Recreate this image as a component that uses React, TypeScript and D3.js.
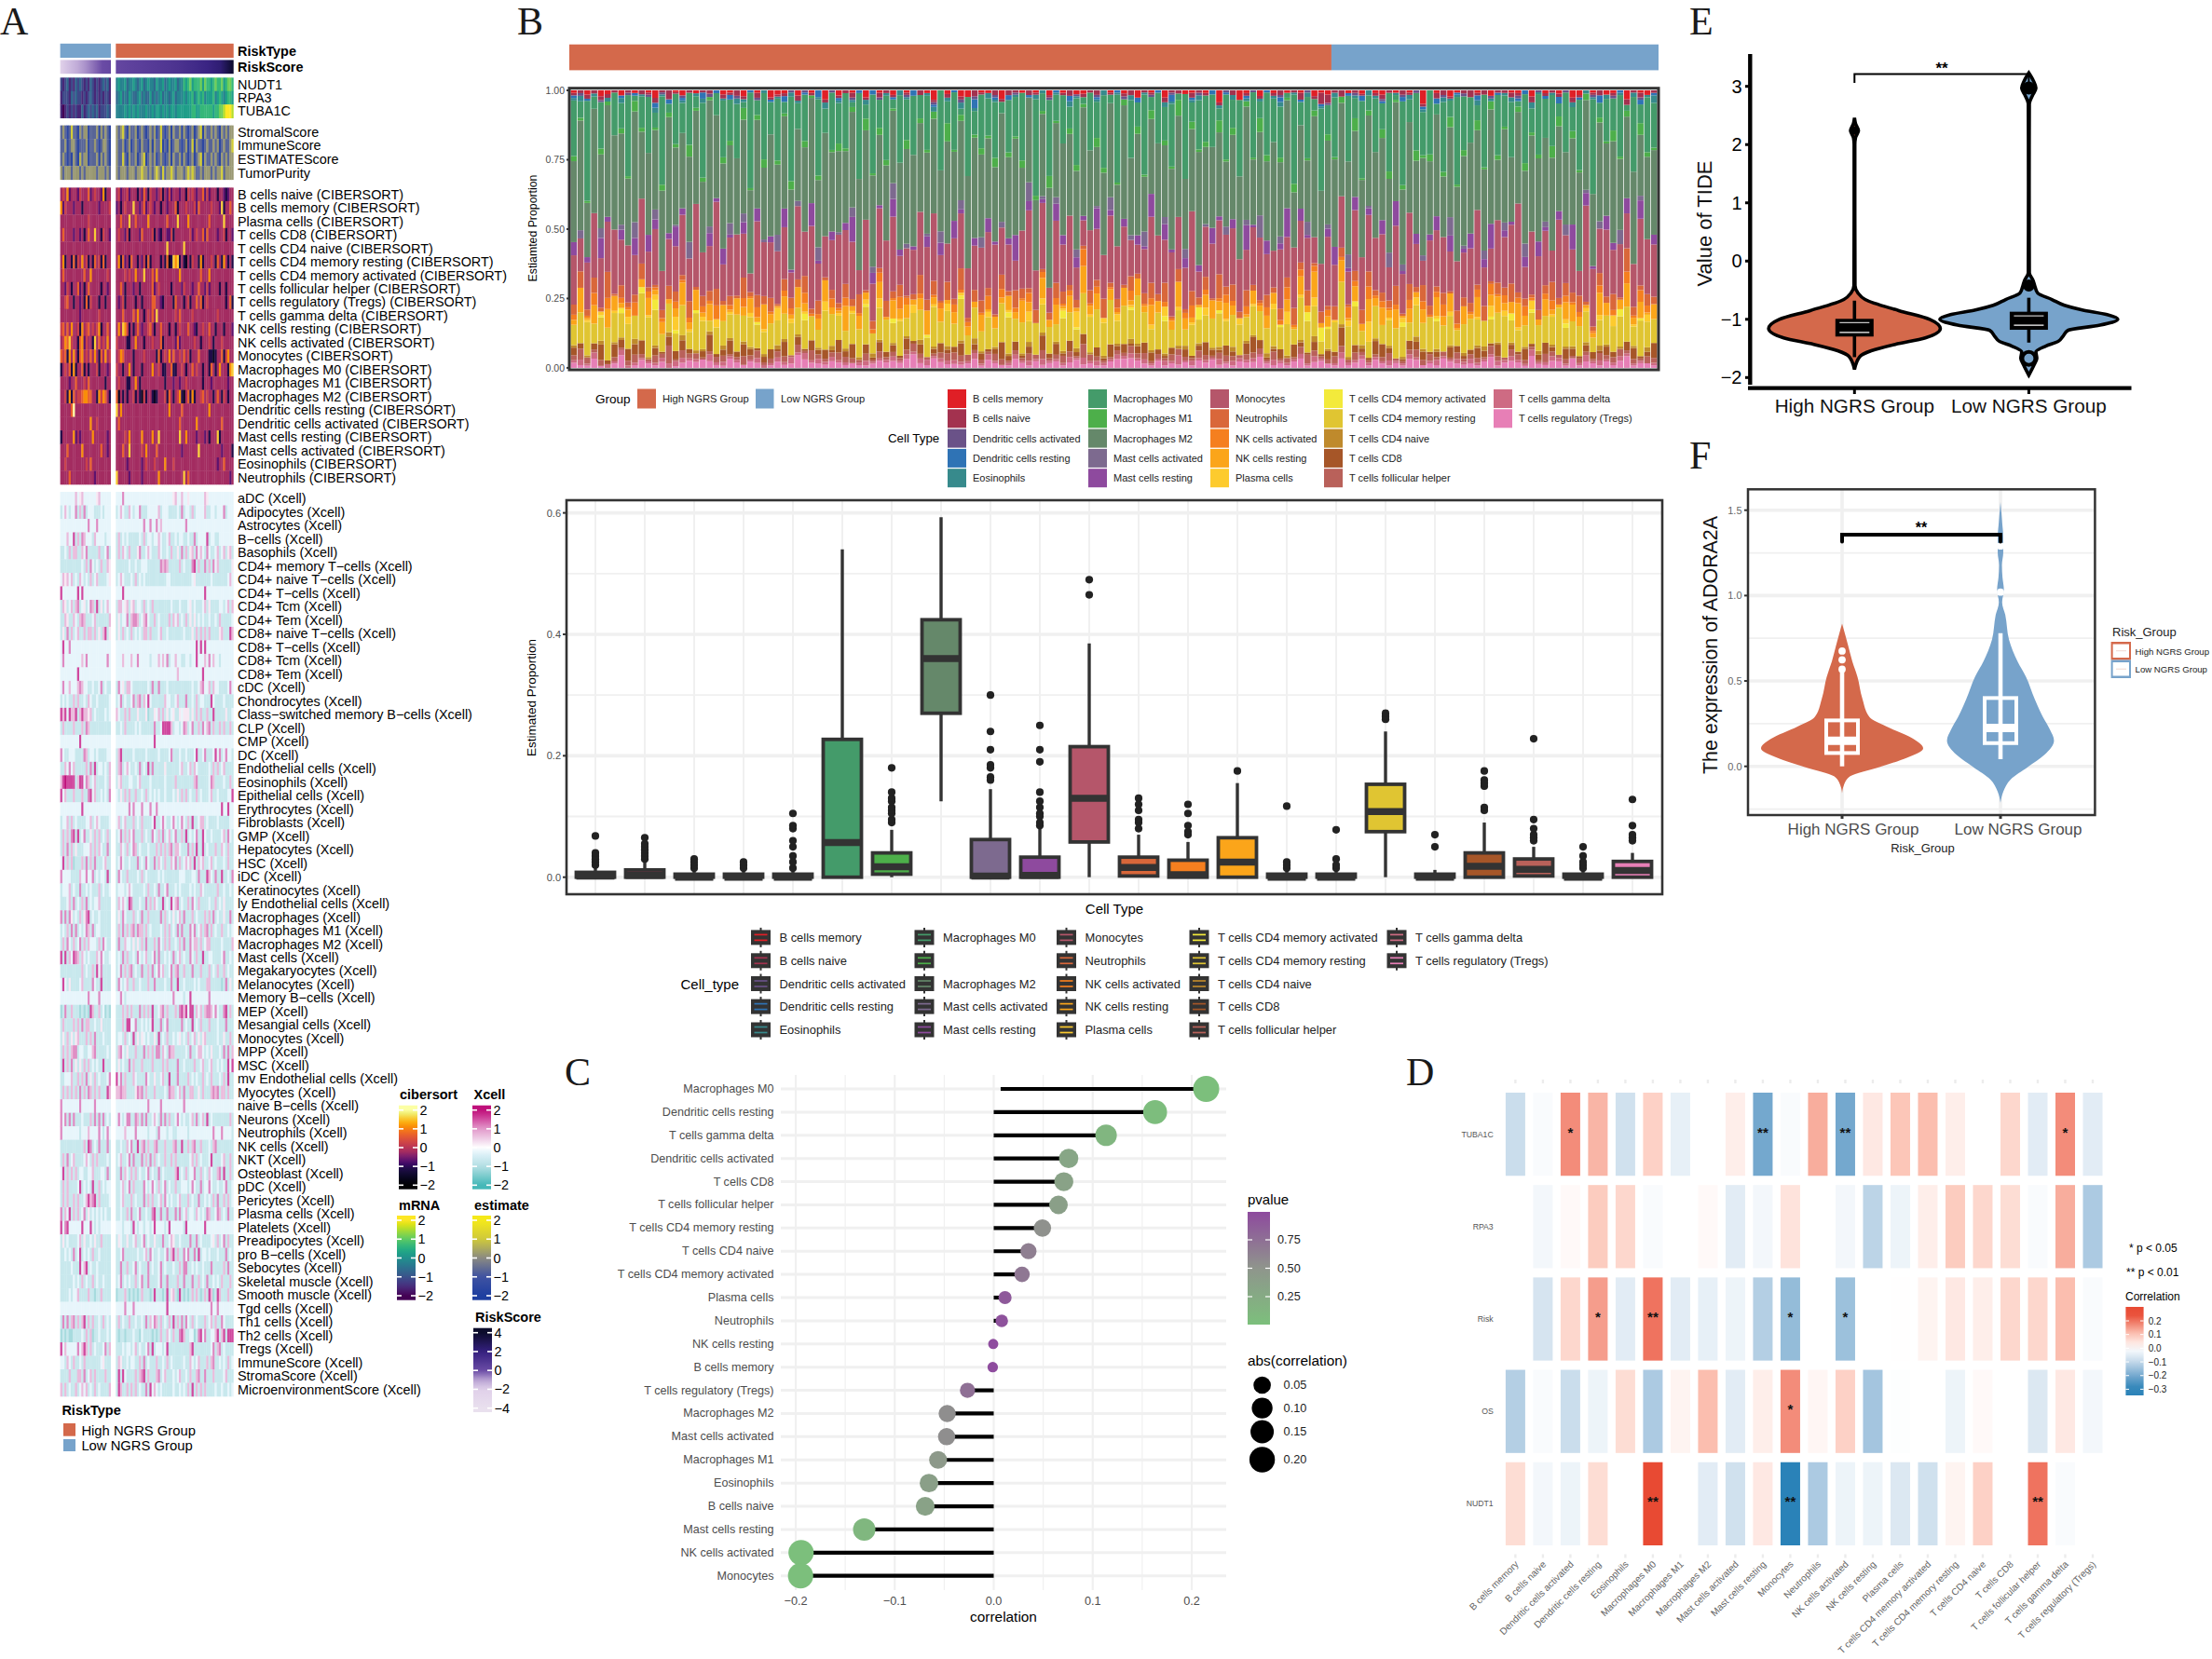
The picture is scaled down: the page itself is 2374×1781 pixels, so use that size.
import React from "react";
import * as d3 from "d3";

const HIGH = "#D4694B";
const LOW = "#77A3CB";
const SANS = "'Liberation Sans', Arial, sans-serif";
const SERIF = "'Liberation Serif', 'Times New Roman', serif";
const GRID = "#f0f0f0";

// ---- panel A values: one string per row, "low group" + space + "high group", digit 0-9 = z score -2..2
const mrnaLabels = ["NUDT1", "RPA3", "TUBA1C"];
const mrnaRows = [
  "212312132321213212123231 45445344543453454435445345445344656756667576656766756776",
  "122213232212123212121221 34534354334534335343453443453444545564565645556456545665",
  "101212121131232323122232 44445454545444544545545454554555555566556666665667789998",
];
const estimateLabels = ["StromalScore", "ImmuneScore", "ESTIMATEScore", "TumorPurity"];
const estimateRows = [
  "353137331535513335153531 53573153351353135351373135153351531351357153353531535355",
  "335135531333513353135531 53351351353153315153371315135531351371533135335351353357",
  "353131531635513335153531 53373153351357135351353135153351531351357153353531535355",
  "535553555353555553555353 53555355535575535357537355753555357575335355535355735555",
];
const cibersortLabels = ["B cells naive", "B cells memory", "Plasma cells", "T cells CD8", "T cells CD4 naive", "T cells CD4 memory resting", "T cells CD4 memory activated", "T cells follicular helper", "T cells regulatory (Tregs)", "T cells gamma delta", "NK cells resting", "NK cells activated", "Monocytes", "Macrophages M0", "Macrophages M1", "Macrophages M2", "Dendritic cells resting", "Dendritic cells activated", "Mast cells resting", "Mast cells activated", "Eosinophils", "Neutrophils"];
const cibersortRows = [
  "454734443544463454437244 45344534442436425443452435344434425454344635344424432344",
  "735444344424444444344445 34245444844346345434424434446244454445364444454443824464",
  "444444444444454444444444 44644484464444474444444464444844447444444444644444484444",
  "464444344342464484425443 45443524444364444524324433524444444534544636444434452443",
  "444444444444444444444444 44444444444444444444444484444444844444444444444444444444",
  "472442625474524264526244 47263426442435262444424261287824214254427244454264274242",
  "464444444446447444444454 44445454474448444647444444444474444444446444744444444444",
  "443542446342464444424434 44642444344244444634544444244443544434464435344442442444",
  "445644244342625444244244 43452444424424444664432444426444245244646245444444442462",
  "444444444344444444544444 44464444647442454648444444445464444454444444444454444444",
  "564647445274564545724464 47487524246434456424464442442454446443244544644244424443",
  "457685442673544284645474 54444224474442444544462444443634444445442444542444544444",
  "656274742674546474264745 45764444244445444442624547464454645244464444221244625744",
  "245462724462424445244434 54424474244424444744542244622445424464544244264247444278",
  "444434464445464444444244 45444224474244444444444244434434454444444244434444444344",
  "445272645567766442757642 61424244524215244212444526424572146272445645442464254244",
  "444446944444444444444444 84744444444444444444444447444446444444444444744444444444",
  "444444444444447445444444 46444444444444444444444444444464444444744444444444644444",
  "244444734344444744444434 44445474444474444744844444444484474444344434244482444444",
  "444644444474444444464434 44464484444454744446444444444443444444484444444444344442",
  "445444444444546444444444 44444344444434544454444744454444444444444444444434464444",
  "444464444444444434444444 84444434444434444444744444444444846444444444444444444434",
];
const xcellLabels = ["aDC", "Adipocytes", "Astrocytes", "B\u2212cells", "Basophils", "CD4+ memory T\u2212cells", "CD4+ naive T\u2212cells", "CD4+ T\u2212cells", "CD4+ Tcm", "CD4+ Tem", "CD8+ naive T\u2212cells", "CD8+ T\u2212cells", "CD8+ Tcm", "CD8+ Tem", "cDC", "Chondrocytes", "Class\u2212switched memory B\u2212cells", "CLP", "CMP", "DC", "Endothelial cells", "Eosinophils", "Epithelial cells", "Erythrocytes", "Fibroblasts", "GMP", "Hepatocytes", "HSC", "iDC", "Keratinocytes", "ly Endothelial cells", "Macrophages", "Macrophages M1", "Macrophages M2", "Mast cells", "Megakaryocytes", "Melanocytes", "Memory B\u2212cells", "MEP", "Mesangial cells", "Monocytes", "MPP", "MSC", "mv Endothelial cells", "Myocytes", "naive B\u2212cells", "Neurons", "Neutrophils", "NK cells", "NKT", "Osteoblast", "pDC", "Pericytes", "Plasma cells", "Platelets", "Preadipocytes", "pro B\u2212cells", "Sebocytes", "Skeletal muscle", "Smooth muscle", "Tgd cells", "Th1 cells", "Th2 cells", "Tregs", "ImmuneScore", "StromaScore", "MicroenvironmentScore"];
const xcellRows = [
  "444444464564444445644444 44474444444444444444444444456446445444444465444444444444",
  "346434473637344433343444 34643364344733344444634443333437344363444463344344473444",
  "444444444444474447444444 44444444444447447447464444444444474444444444444444444444",
  "444644836376444364444344 36343433333436344344643346334344334337344448344334444444",
  "334363663364733333633473 36364363335733464333643343633537363563746437433463463563",
  "333333333343637434363365 33333343343344433333376763333363433378363373637463333335",
  "465646343643436346333345 34643334363434333333333344333333333345333333343333333464",
  "844444448484444444444444 44484444444444444444444444444444444444444484444444444444",
  "365346367345347638353464 36645635634436343633333333433343334534333463533334434636",
  "336533643676333463333336 35344736776346743363433336364634363535343433433436333334",
  "353736346336366363536835 35363436343436636333463343333333433353636363633335633386",
  "484474444444444444444444 44444444444444444444444444444444444444848484444444444444",
  "474444444464744444444474 44464446447444443444646473446443344344844464746443444444",
  "444444448444444444444444 44444444444444444444444444444644444444444844444444444444",
  "474464446764433433473433 37453664333333343733733343333333333343346744636443333474",
  "343433636334364334333334 34734334736736484333333644334633373343634433384333343333",
  "868486683686656343333434 64336363335333523354636353453354555353636336338333335334",
  "363333633363763333333333 33436333343433333373348888634434763473363746736336363363",
  "444444444844444444444444 44444444444444444484444444444444444444444444444444444444",
  "743344433337634434333344 36833333433333433333433334733343343334833473334847347443",
  "336474633333637383443436 36734643343734383733333533333346334636433333436363463333",
  "689888836884763463333436 35633344334633334333333433336333333336733333476333343363",
  "846333633363378463343437 43536363363343634343433433343536363433634333463343333448",
  "444444444484444444444444 44444474744474447447444444444444444444444444444444844844",
  "344636343333446346433334 46346333634363333483347433474347436383346634333343333344",
  "363637838347335363634363 34736364733363433743637346347336383434733843343333463743",
  "363736353334446363643373 33643634763433343336363636736643337363833834333633643633",
  "483636233363736373334633 34743343337343743373643633647363464638364633463433343633",
  "744443333644744734344383 37433633334363433333434333333344433344373338643733833437",
  "344463433733434333634334 34443464333334363343733473334343333434336433333363343343",
  "333463734363734344633333 36464387333433736364338343846734336374363333433634353333",
  "737375343635783433433333 35374333634373363333373634353463733363433363637343353373",
  "343637373434763734433333 36373636737663634333343636343737333747346367363433633434",
  "363743634736364443637433 37336443535363733363743636334363733746636346633333433336",
  "838364876364343336474334 34373633437434633473733434373463433743633833443333473343",
  "333333333363433638473333 34736367343373363734746334736733633373336333634363363433",
  "484353333463333743383333 37434633633433363373333433733833433334343336633333237353",
  "444444444444474444744444 44743444444444444444444444474444344844444444744444444444",
  "237336333232328633634232 33363636333736363833467363336378684883646367764743378363",
  "363333636373663343353333 33363884473343434833373473333337343383436333633343337333",
  "353635356333636373334333 34436343835354343353834363343453436346353563333343353363",
  "363636773443344673333343 36743533363337363637736437663333343733466434353334373736",
  "383637353536363434338333 35343373633363333633336363333733433336334633463343433848",
  "334446336363735363433347 84736333643333743353346338333733336343433634363334363833",
  "363636363736376363633386 66766333357673633363333437663463733663353633367673663633",
  "744444444744444474444444 44444444444444474444474444444444744444444444444444444444",
  "747373733343336373737343 47434773376373733464373736334743433463734638343333333363",
  "744444444344464444743474 44446444474444434443744434433444443444444444447444744443",
  "333333333336387343733373 33433647338367363367333633367338336367336333436733333333",
  "363734633334643636333343 34633473733373637363433633636333333463634333483333463363",
  "483636363443344633344373 33736436363433473433734333336834363447336343643367383363",
  "363633334834343833634344 33463473633337434743634734336334443474337344743343347334",
  "363633636334686783633334 33463336343337363633463743433463336343373343436373363634",
  "736483636347353434343433 33433637334733433783373373337373463443643437633476343733",
  "847844444484448434344444 44434443843443443484444348444444384444444484444444444444",
  "353433334635334353363333 35433533463347343353337334653343333733734333345363473633",
  "334343734834343633433333 33473333334334637433433473683633747337383443433343337343",
  "333334333846834334333333 33733633473433373433473433343363773343433433373333363733",
  "333333434363433634334333 34734343363473373333473373333633733373363437334343633363",
  "333343446333363323363333 23336323232363332383332383563283232363632363862386333633",
  "444444444444444444444444 44447444744444444444444484444444444444444444474474444444",
  "373736736368363633436343 36343363343343736476363436383637374363433363463633743333",
  "232322333343636233433343 32332333433243333232363364363378633442378473344683683888",
  "846444447468636343334736 33343443463433473834443483333333333683333333347367343333",
  "443643633436333333345333 36533434433637343336334363433333433643463336367334343634",
  "333363336637346363333633 38384333363678363336734633343463343633673373336333346333",
  "636343363464634363433336 38633636363433738464343333343343436383636363333433433434",
];

// panel B: stacked proportions per sample, base-36 digits scaled by cellUnits below
const bMemory = "1020310201 0130012010 0021020103 2102010302 0103010201 0014010230 1103001010 2010210001 0103010300 2101040031 0201010102 1200102012 0101050103 1001020011 0201010320 1021030120";
const bNaive = "1121211010 2121210101 1021210201 1102010101 1201021101 0201010102 1021210210 1012011201 0120110211 0211010201 0101201301 5412011012 1021010221 0131201121 0201110210 1201021201";
const dcActivated = "0100100010 0101001000 1000100100 0010100010 0100010001 0001000101 0010010000 1000100100 0100010010 0010001000 1000100010 0100010001 0010100010 0100010001 0010001000 1001000100";
const dcResting = "1010000101 0020101003 0102001001 0200103001 0010200100 2001001003 0010200100 0102000100 1002001030 0100201001 0010200100 1000103001 0020010200 1002001001 2001020010 0300100201";
const eosinophils = "1201010200 1021001012 0010210010 1021001201 0102001021 0012010201 0210010021 0102100120 1020100210 0120010201 0101201020 1020010210 0102010021 1002010120 0210100201 1020102013";
const macroM0 = "b3o2c0a5h1 8d3m1f6b2i 04e9a1n3c7 f2k5b0h4d8 a1g3j6c2e9 b5a0l3f1i4 d7c2b9e0m3 g6a4h1d8f2 k0c5j3b7e1 n4a9d2g6c0 h3f8b1l5e2 i7d0c4m3a6 g1j5b8e2f4 k9a3h0d6c1 i4g7b2e5f0 l3a6d1h4c9";
const macroM1 = "2110310214 2013120512 1032041230 2140312013 1205132104 0213051201 3140213021 5102310420 1203140215 0312041302 1530214012 0312051204 3120413025 1204132102 4120530312 0214120521";
const macroM2 = "gkdhjfmiel hjgkdnfigh jflhegkidm hgjeklfhig dkhjmfegil hjfkgeidlh kfgjhmdige lhjfkgidhm ejgldhkfig jhnfkegidl hfjkgmdiel gkjfhdmigj flhkeigjdm hfkgjldieh jgmfkdhile gkhjfeldih";
const mastActivated = "0300500206 0040010700 2005030010 8002006001 0400300702 0010600300 5002000801 0300400106 0020700300 5001004002 0800300060 0200500100 6030020009 0100400300 7002005001 0300600200";
const mastResting = "4020810305 0630192000 3161030402 0510071030 2800410620 1030507102 0410290301 0630410702 0203180510 4020610307 1050290410 0360140205 0810302406 0150370210 4061020803 1052040603";
const monocytes = "d8feh9kcga mbfd7igcje 9lchfa6kdg hc8jemb9fi dg6kchfm8e bidjg7lcfa hekbd9gmcf 7jdhb5ifcl gda8ekhcjb fm7dichgba kfd9hbjcg6 emcb8gkfdi 9hclb6jegd fagkc8idhm bejd9gfc7k hclbf8djge";
const neutrophils = "4635271523 8214362715 3624172536 1453826142 5371426351 2846153724 6315284261 3752416382 4162573814 2635184726 3162548371 5263148624 3817264251 6342715382 4153826471 2536184253";
const nkActivated = "2014030215 0312041203 1502031401 0230512041 3010240153 0201304120 1503021402 0312051301 2040130210 3502014203 0140251302 0301420513 1204031250 2013041302 5102403120 1302041530";
const nkResting = "2916057230 4826159372 5081637294 1628405731 9253071846 2593716042 8152639407 3916284705 1627395048 6215938401 7264051839 2507164938 3816250749 1628047359 5036218741 2960483716";
const plasmaCells = "0010201030 0120080102 0301002010 6020100301 0102040010 3001020100 0200100402 0010801020 3010020401 0103001020 1002050103 0010200800 1020300102 0001040201 0300102001 0204001030";
const cd4Activated = "0000100200 3040020010 0000000100 0000300000 0001000200 0010000100 0000200000 0030100000 0010000200 0050010000 0000100040 6100020000 0020000100 0000010030 0100002000 0000300100";
const cd4Resting = "aek8fbhcdb unib8df9gh 4cfdhbicae fbjdhcagic 8gdkchfbia dg9lecfhbd cfahjdgbic eahdcfklhq dgfpickhae bgcdiefhcb jdfhcg9nid 7cgheja8fb dghafcjdei 9chdfbgkca edhcfibdgc 8dhcgfbjec";
const cd4Naive = "1010201102 0110102011 1021011010 2101001020 1010210101 0201010102 1010101201 0110201010 1021010101 2010110201 1021010102 0101102010 1010210101 0101201010 1020101101 0210101020";
const cd8 = "3202816354 7031254203 5136243124 1503142315 2604142315 1402513402 3126241305 2514230416 2313542130 4125315204 8311406213 1426032156 2014331205 3124315021 6134205312 3142035126";
const follicularHelper = "2431302123 2132413221 1231132312 3213142123 2213131212 3211324231 2132121323 1232143211 2132312132 2132123212 3213121342 1232132112 3112323121 3122132132 2113212121 1322312132";
const gammaDelta = "1212011211 1112132110 2121101211 2131312121 1012111212 1221212112 1210121212 1112121211 2121211213 1211121211 2112111212 1012112111 2112101211 2121112121 1211211012 1211211101";
const tregs = "2113102501 4213012324 2114213201 3125422132 1211232324 5214312123 1321142131 2312412113 4343213121 3132412122 3421213412 3213125132 1214312143 2121341232 1421321412 2131341221";

const cellTypes = ["B cells memory", "B cells naive", "Dendritic cells activated", "Dendritic cells resting", "Eosinophils", "Macrophages M0", "Macrophages M1", "Macrophages M2", "Mast cells activated", "Mast cells resting", "Monocytes", "Neutrophils", "NK cells activated", "NK cells resting", "Plasma cells", "T cells CD4 memory activated", "T cells CD4 memory resting", "T cells CD4 naive", "T cells CD8", "T cells follicular helper", "T cells gamma delta", "T cells regulatory (Tregs)"];
const cellColors = ["#E01F26", "#A3324F", "#6A5288", "#2F73B5", "#378A8C", "#449B6A", "#4DAF4A", "#65886A", "#7D6A8F", "#8E4A9E", "#B5566A", "#D9673A", "#F57F1F", "#FBA51A", "#FDCB2E", "#F3EA3B", "#E0C532", "#BF8A2C", "#A65628", "#B9615A", "#CE6B83", "#E77FB6"];
const cellStrings = [bMemory, bNaive, dcActivated, dcResting, eosinophils, macroM0, macroM1, macroM2, mastActivated, mastResting, monocytes, neutrophils, nkActivated, nkResting, plasmaCells, cd4Activated, cd4Resting, cd4Naive, cd8, follicularHelper, gammaDelta, tregs];
const cellUnits = [1, 1, 1, 1, 1, 2, 1, 2, 1, 1.3, 1.5, 1, 1, 1, 1, 1, 0.8, 1, 1, 1, 1, 1];

// boxplot values, same order as cellTypes
const boxQ1 = [0, 0, 0, 0, 0, 0, 0.005, 0.27, 0, 0, 0.058, 0.002, 0, 0, 0, 0, 0.075, 0, 0, 0.002, 0, 0];
const boxMedian = [0.002, 0.003, 0, 0, 0, 0.057, 0.017, 0.36, 0.002, 0.003, 0.13, 0.016, 0.004, 0.025, 0, 0, 0.108, 0, 0.018, 0.013, 0, 0.011];
const boxQ3 = [0.008, 0.012, 0.005, 0.005, 0.005, 0.227, 0.04, 0.424, 0.062, 0.033, 0.215, 0.033, 0.028, 0.065, 0.005, 0.005, 0.153, 0.005, 0.04, 0.03, 0.005, 0.026];
const boxLow = [0, 0, 0, 0, 0, 0, 0, 0.125, 0, 0, 0, 0, 0, 0, 0, 0, 0, 0, 0, 0, 0, 0];
const boxHigh = [0.015, 0.025, 0.012, 0.012, 0.012, 0.54, 0.078, 0.593, 0.145, 0.08, 0.385, 0.07, 0.058, 0.155, 0.012, 0.012, 0.24, 0.012, 0.09, 0.05, 0.012, 0.04];
const boxOutliers = [
  [0.02, 0.025, 0.03, 0.035, 0.04, 0.068],
  [0.03, 0.035, 0.04, 0.045, 0.05, 0.055, 0.065],
  [0.015, 0.02, 0.025, 0.03],
  [0.015, 0.02, 0.025],
  [0.015, 0.025, 0.035, 0.05, 0.06, 0.08, 0.085, 0.105],
  [],
  [0.09, 0.095, 0.105, 0.11, 0.115, 0.125, 0.13, 0.14, 0.18],
  [],
  [0.16, 0.165, 0.18, 0.185, 0.21, 0.24, 0.30],
  [0.085, 0.09, 0.1, 0.105, 0.115, 0.125, 0.14, 0.19, 0.21, 0.25],
  [0.465, 0.49],
  [0.08, 0.09, 0.095, 0.11, 0.12, 0.13],
  [0.07, 0.075, 0.085, 0.105, 0.12],
  [0.175],
  [0.015, 0.02, 0.025, 0.117],
  [0.015, 0.02, 0.03, 0.078],
  [0.26, 0.265, 0.27],
  [0.05, 0.07],
  [0.11, 0.115, 0.15, 0.155, 0.16, 0.175],
  [0.06, 0.065, 0.07, 0.08, 0.095, 0.228],
  [0.015, 0.02, 0.025, 0.035, 0.05],
  [0.06, 0.065, 0.07, 0.085, 0.128],
];

// panel C
const lollipopLabels = ["Macrophages M0", "Dendritic cells resting", "T cells gamma delta", "Dendritic cells activated", "T cells CD8", "T cells follicular helper", "T cells CD4 memory resting", "T cells CD4 naive", "T cells CD4 memory activated", "Plasma cells", "Neutrophils", "NK cells resting", "B cells memory", "T cells regulatory (Tregs)", "Macrophages M2", "Mast cells activated", "Macrophages M1", "Eosinophils", "B cells naive", "Mast cells resting", "NK cells activated", "Monocytes"];
const lollipopCorrelation = [0.2146, 0.163, 0.1135, 0.0757, 0.0708, 0.0654, 0.0492, 0.0351, 0.0286, 0.0114, 0.0081, -0.0005, -0.001, -0.0265, -0.047, -0.0476, -0.0562, -0.0654, -0.0692, -0.1308, -0.1946, -0.1951];
const lollipopPvalue = [0.01, 0.03, 0.12, 0.3, 0.35, 0.38, 0.53, 0.65, 0.7, 0.9, 0.95, 0.99, 0.99, 0.75, 0.55, 0.55, 0.45, 0.38, 0.35, 0.1, 0.01, 0.01];
const sizeLegend = [0.05, 0.1, 0.15, 0.2];

// panel D
const corrGenes = ["TUBA1C", "RPA3", "Risk", "OS", "NUDT1"];
const corrValues = [
  [-0.09, -0.01, 0.17, 0.12, -0.08, 0.08, -0.04, 0, 0.03, -0.2, -0.01, 0.13, -0.2, 0.04, 0.1, 0.11, 0.03, 0, 0.07, -0.05, 0.17, -0.05],
  [0, -0.02, 0.01, 0.09, 0.07, -0.01, 0, 0.01, -0.05, -0.02, 0.05, 0, -0.02, -0.11, -0.03, 0.03, 0.09, 0.07, 0.06, -0.01, 0.13, -0.13],
  [0, -0.07, 0.07, 0.15, -0.05, 0.2, -0.05, -0.04, -0.03, -0.12, -0.16, 0, -0.15, 0, 0.002, 0.02, 0.04, 0.03, 0.07, 0.07, 0.11, -0.01],
  [-0.12, -0.01, -0.09, -0.03, 0.06, -0.13, 0.02, 0.11, -0.05, 0.03, 0.17, 0.015, 0.08, -0.14, -0.003, 0, -0.03, 0.01, 0, -0.06, 0.04, -0.02],
  [0.06, -0.02, -0.03, 0.06, 0, 0.25, 0, -0.05, -0.08, 0.04, -0.3, -0.13, -0.03, -0.03, -0.06, -0.08, 0.02, 0.08, 0, 0.2, -0.01, 0],
];
const corrStars = [
  ["", "", "*", "", "", "", "", "", "", "**", "", "", "**", "", "", "", "", "", "", "", "*", ""],
  [],
  ["", "", "", "*", "", "**", "", "", "", "", "*", "", "*"],
  ["", "", "", "", "", "", "", "", "", "", "*"],
  ["", "", "", "", "", "**", "", "", "", "", "**", "", "", "", "", "", "", "", "", "**"],
];

// panel E, violin outlines: value and relative density
const tideHighValue = [2.46, 2.36, 2.24, 2.12, 2.0, 0.8, -0.42, -0.55, -0.66, -0.85, -1.0, -1.16, -1.32, -1.43, -1.54, -1.64, -1.86];
const tideHighDensity = [0, 0.012, 0.045, 0.012, 0.004, 0.004, 0.006, 0.04, 0.12, 0.5, 0.85, 0.97, 0.8, 0.46, 0.19, 0.06, 0];
const tideLowValue = [3.23, 3.1, 2.97, 2.84, 2.7, 1.29, -0.2, -0.34, -0.44, -0.55, -0.66, -0.76, -0.84, -0.92, -1.0, -1.1, -1.19, -1.3, -1.38, -1.46, -1.56, -1.67, -1.78, -1.96];
const tideLowDensity = [0, 0.05, 0.08, 0.04, 0.006, 0.004, 0.006, 0.05, 0.07, 0.1, 0.26, 0.4, 0.6, 0.88, 1, 0.8, 0.44, 0.38, 0.33, 0.19, 0.08, 0.09, 0.06, 0];

// panel F
const adoraHighValue = [0.836, 0.778, 0.705, 0.615, 0.524, 0.396, 0.287, 0.233, 0.16, 0.105, 0.05, -0.004, -0.058, -0.113, -0.158];
const adoraHighDensity = [0, 0.034, 0.076, 0.126, 0.19, 0.25, 0.34, 0.55, 0.88, 1, 0.8, 0.46, 0.1, 0.02, 0];
const adoraLowValue = [1.547, 1.433, 1.342, 1.25, 1.178, 1.105, 1.033, 0.96, 0.887, 0.742, 0.615, 0.524, 0.396, 0.287, 0.215, 0.151, 0.069, -0.004, -0.076, -0.149, -0.213];
const adoraLowDensity = [0, 0.02, 0.034, 0.034, 0.017, 0.025, 0.042, 0.02, 0.059, 0.105, 0.21, 0.315, 0.42, 0.525, 0.61, 0.66, 0.546, 0.336, 0.126, 0.034, 0];

const minus = (v: number | string) => String(v).replace("-", "\u2212");
const pct = (s: string, unit: number) => Array.from(s.replace(/\s/g, "")).map((c) => parseInt(c, 36) * unit);
const level = (c: string) => -2 + (+c * 4) / 9;

const xcellColor = d3.scaleLinear<string>().domain([-2, -1, -0.3, 0, 0.5, 1, 1.5, 2]).range(["#45B8B8", "#b3dfe3", "#dff2f9", "#ffffff", "#eecbe5", "#e29acb", "#d24fa2", "#bf0f7a"]).clamp(true);
const estimateColor = d3.scaleLinear<string>().domain([-2, -1, 0, 1, 2]).range(["#1E3FA0", "#3f52a2", "#8a8a82", "#cfc93a", "#f5e91a"]).clamp(true);
const riskColor = d3.scaleLinear<string>().domain([-4, -2, -1, 0, 2, 4]).range(["#e9e0ee", "#e0d0ea", "#b9a3d3", "#6a4ba5", "#35207f", "#0b0b2b"]).clamp(true);
const cibersortT = d3.scaleLinear().domain([-2, -1, -0.22, 1, 2]).range([0, 0.14, 0.44, 0.72, 1]).clamp(true);
const cibersortColor = (v: number) => d3.interpolateInferno(cibersortT(v));
const mrnaColor = (v: number) => d3.interpolateViridis(Math.min(1, Math.max(0, (v + 2) / 4)));
const pColor = d3.scaleLinear<string>().domain([0, 0.5, 1]).range(["#7CC07C", "#8f958c", "#8E4A9E"]);
const corrColor = d3.scaleLinear<string>().domain([-0.3, -0.2, -0.1, 0, 0.1, 0.25]).range(["#2a82b8", "#74a8ce", "#c4d9ea", "#ffffff", "#fcc6b8", "#e84a33"]).clamp(true);

type TextProps = { x: number; y: number; s?: number; c?: string; a?: "start" | "middle" | "end"; w?: number | string; r?: number; children: React.ReactNode };
const T = ({ x, y, s = 12, c = "#000", a = "start", w = 400, r, children }: TextProps) => (
  <text x={x} y={y} fontSize={s} fill={c} textAnchor={a} fontWeight={w} dominantBaseline="central" fontFamily={SANS} transform={r !== undefined ? `rotate(${r} ${x} ${y})` : undefined}>{children}</text>
);
const Letter = ({ x, y, children }: { x: number; y: number; children: string }) => (
  <text x={x} y={y} fontSize={42} fontFamily={SERIF} fill="#1a1a1a">{children}</text>
);

function HeatBlock({ rows, labels, suffix = "", top, bottom, color }: { rows: string[]; labels: string[]; suffix?: string; top: number; bottom: number; color: (v: number) => string }) {
  const y = d3.scaleBand<number>().domain(d3.range(rows.length)).range([top, bottom]);
  return (
    <g>
      {rows.map((row, i) => {
        const [lo, hi] = row.split(" ");
        const xl = d3.scaleBand<number>().domain(d3.range(lo.length)).range([64.6, 119]);
        const xh = d3.scaleBand<number>().domain(d3.range(hi.length)).range([124.3, 250.7]);
        return (
          <g key={i}>
            {Array.from(lo).map((c, j) => <rect key={j} x={xl(j)} y={y(i)} width={xl.bandwidth() + (j < lo.length - 1 ? 0.3 : 0)} height={y.bandwidth() + 0.3} fill={color(level(c))} />)}
            {Array.from(hi).map((c, j) => <rect key={j} x={xh(j)} y={y(i)} width={xh.bandwidth() + (j < hi.length - 1 ? 0.3 : 0)} height={y.bandwidth() + 0.3} fill={color(level(c))} />)}
            <T x={255} y={y(i)! + y.bandwidth() / 2} s={14.4}>{labels[i] + suffix}</T>
          </g>
        );
      })}
    </g>
  );
}

function ColorBar({ id, title, x, titleX, titleY, top, bottom, hi, lo, color, ticks, yHi, yLo, width = 20 }: { id: string; title: string; x: number; titleX: number; titleY: number; top: number; bottom: number; hi: number; lo: number; color: (v: number) => string; ticks: number[]; yHi: number; yLo: number; width?: number }) {
  const y = d3.scaleLinear().domain([lo, hi]).range([yLo, yHi]);
  const offsets = d3.range(0, 1.0001, 0.05);
  return (
    <g>
      <defs>
        <linearGradient id={id} x1="0" x2="0" y1="0" y2="1">
          {offsets.map((o) => <stop key={o} offset={o} stopColor={color(y.invert(top + o * (bottom - top)))} />)}
        </linearGradient>
      </defs>
      <T x={titleX} y={titleY} s={14.5} w={700}>{title}</T>
      <rect x={x} y={top} width={width} height={bottom - top} fill={`url(#${id})`} />
      {ticks.map((t) => (
        <g key={t}>
          <line x1={x} x2={x + width * 0.25} y1={y(t)} y2={y(t)} stroke="#fff" strokeWidth={1.6} />
          <line x1={x + width * 0.75} x2={x + width} y1={y(t)} y2={y(t)} stroke="#fff" strokeWidth={1.6} />
          <T x={x + width + 2.5} y={y(t)} s={14.4}>{minus(t)}</T>
        </g>
      ))}
    </g>
  );
}

function PanelA() {
  const riskLow = [-2.2, -1.6, -1.2, -0.8, -0.4, 0, 0.2];
  const riskHigh = [0.2, 0.4, 0.6, 0.8, 1, 1.2, 1.5, 1.8, 2.3, 4];
  return (
    <g>
      <Letter x={0} y={37}>A</Letter>
      <defs>
        <linearGradient id="riskLow">{riskLow.map((v, i) => <stop key={i} offset={i / (riskLow.length - 1)} stopColor={riskColor(v)} />)}</linearGradient>
        <linearGradient id="riskHigh">{riskHigh.map((v, i) => <stop key={i} offset={i / (riskHigh.length - 1)} stopColor={riskColor(v)} />)}</linearGradient>
      </defs>
      <rect x={64.6} y={46.8} width={54.4} height={15.2} fill={LOW} />
      <rect x={124.3} y={46.8} width={126.4} height={15.2} fill={HIGH} />
      <T x={255} y={54.7} s={14.4} w={700}>RiskType</T>
      <rect x={64.6} y={64.4} width={54.4} height={14.8} fill="url(#riskLow)" />
      <rect x={124.3} y={64.4} width={126.4} height={14.8} fill="url(#riskHigh)" />
      <T x={255} y={72} s={14.4} w={700}>RiskScore</T>
      <HeatBlock rows={mrnaRows} labels={mrnaLabels} top={83.3} bottom={126.7} color={mrnaColor} />
      <HeatBlock rows={estimateRows} labels={estimateLabels} top={134.6} bottom={192.8} color={estimateColor} />
      <HeatBlock rows={cibersortRows} labels={cibersortLabels} suffix=" (CIBERSORT)" top={201.4} bottom={520} color={cibersortColor} />
      <HeatBlock rows={xcellRows} labels={xcellLabels} suffix=" (Xcell)" top={528} bottom={1499} color={xcellColor} />
      <ColorBar id="cbCib" title="cibersort" x={428} titleX={429} titleY={1175} top={1186.7} bottom={1276.7} hi={2} lo={-2} yHi={1191.7} yLo={1272.3} color={cibersortColor} ticks={[-2, -1, 0, 1, 2]} />
      <ColorBar id="cbXcell" title="Xcell" x={507} titleX={508.5} titleY={1175} top={1186.7} bottom={1276.7} hi={2} lo={-2} yHi={1191.7} yLo={1272.3} color={xcellColor} ticks={[-2, -1, 0, 1, 2]} />
      <ColorBar id="cbMrna" title="mRNA" x={426} titleX={428} titleY={1294} top={1305} bottom={1395.7} hi={2} lo={-2} yHi={1310} yLo={1391} color={mrnaColor} ticks={[-2, -1, 0, 1, 2]} />
      <ColorBar id="cbEst" title="estimate" x={507} titleX={509} titleY={1294} top={1305} bottom={1395.7} hi={2} lo={-2} yHi={1310} yLo={1391} color={estimateColor} ticks={[-2, -1, 0, 1, 2]} />
      <ColorBar id="cbRisk" title="RiskScore" x={508} titleX={510} titleY={1414} top={1425.7} bottom={1516} hi={4} lo={-4} yHi={1430.7} yLo={1511.7} color={riskColor} ticks={[-4, -2, 0, 2, 4]} />
      <T x={66.4} y={1514} s={14.5} w={700}>RiskType</T>
      <rect x={68} y={1528} width={13} height={13.7} fill={HIGH} />
      <rect x={68} y={1545} width={13} height={13} fill={LOW} />
      <T x={87.4} y={1535.7} s={14.8}>High NGRS Group</T>
      <T x={87.4} y={1552.3} s={14.8}>Low NGRS Group</T>
    </g>
  );
}

function StackedBars() {
  const sampleCount = 160;
  const samples = d3.range(sampleCount).map((i) => {
    const o: Record<string, number> = {};
    cellTypes.forEach((t, k) => { o[t] = pct(cellStrings[k], cellUnits[k])[i] ?? 0; });
    return o;
  });
  const keys = [...cellTypes].reverse();
  const series = d3.stack<Record<string, number>>().keys(keys).offset(d3.stackOffsetExpand)(samples);
  const x = d3.scaleBand<number>().domain(d3.range(sampleCount)).range([612.5, 1778.5]).paddingInner(0.1);
  const y = d3.scaleLinear().domain([0, 1]).range([394.9, 97]);
  const groupX = d3.scaleLinear().domain([0, 1]).range([611, 1780]);
  return (
    <g>
      <Letter x={555} y={37}>B</Letter>
      <rect x={611} y={47.7} width={groupX(0.6997) - 611} height={27.7} fill={HIGH} />
      <rect x={groupX(0.6997)} y={47.7} width={1780 - groupX(0.6997)} height={27.7} fill={LOW} />
      {series.map((s) => (
        <g key={s.key} fill={cellColors[cellTypes.indexOf(s.key)]}>
          {s.map((d, i) => <rect key={i} x={x(i)} y={y(d[1])} width={x.bandwidth()} height={Math.max(0, y(d[0]) - y(d[1]))} />)}
        </g>
      ))}
      <rect x={611} y={94.7} width={1169} height={302.3} fill="none" stroke="#333" strokeWidth={3} />
      {[0, 0.25, 0.5, 0.75, 1].map((t) => (
        <g key={t}>
          <line x1={608} x2={611} y1={y(t)} y2={y(t)} stroke="#333" strokeWidth={2} />
          <T x={606} y={y(t)} s={10.5} a="end" c="#4d4d4d">{t.toFixed(2)}</T>
        </g>
      ))}
      <T x={572} y={245} s={12.3} a="middle" r={-90}>Estiamted Proportion</T>
      <T x={639} y={428} s={13.5}>Group</T>
      <rect x={684} y={417.5} width={20} height={21} fill={HIGH} />
      <T x={711} y={428} s={11.2} c="#222">High NGRS Group</T>
      <rect x={811} y={417.5} width={19.5} height={21} fill={LOW} />
      <T x={838} y={428} s={11.2} c="#222">Low NGRS Group</T>
      <T x={953} y={470.6} s={13.3}>Cell Type</T>
      {cellTypes.map((t, i) => {
        const colX = [1017, 1168, 1299, 1421, 1603];
        const rowY = [428, 449.3, 470.6, 491.9, 513.2];
        const cx = colX[Math.floor(i / 5)];
        const cy = rowY[i % 5];
        return (
          <g key={t}>
            <rect x={cx} y={cy - 10} width={20} height={20} fill={cellColors[i]} />
            <T x={cx + 27} y={cy} s={11} c="#222">{t}</T>
          </g>
        );
      })}
    </g>
  );
}

function BoxPanel() {
  const x = d3.scalePoint<string>().domain(cellTypes).range([639, 1752]);
  const y = d3.scaleLinear().domain([0, 0.6]).range([941.7, 550.6]);
  const dark = "#333";
  const boxW = 41;
  return (
    <g>
      {cellTypes.map((t) => <line key={t} x1={x(t)} x2={x(t)} y1={538} y2={959} stroke={GRID} strokeWidth={2} />)}
      {[0.1, 0.3, 0.5].map((t) => <line key={t} x1={609} x2={1783} y1={y(t)} y2={y(t)} stroke={GRID} strokeWidth={1.8} />)}
      {[0, 0.2, 0.4, 0.6].map((t) => <line key={t} x1={609} x2={1783} y1={y(t)} y2={y(t)} stroke={GRID} strokeWidth={3.6} />)}
      {cellTypes.map((t, i) => {
        const cx = x(t)!;
        return (
          <g key={t}>
            <line x1={cx} x2={cx} y1={y(boxLow[i])} y2={y(boxHigh[i])} stroke={dark} strokeWidth={3.4} />
            {boxOutliers[i].map((v, j) => <circle key={j} cx={cx} cy={y(v)} r={4.1} fill="#222" />)}
            <rect x={cx - boxW / 2} y={y(boxQ3[i])} width={boxW} height={y(boxQ1[i]) - y(boxQ3[i])} fill={cellColors[i]} stroke={dark} strokeWidth={3.8} />
            <line x1={cx - boxW / 2} x2={cx + boxW / 2} y1={y(boxMedian[i])} y2={y(boxMedian[i])} stroke={dark} strokeWidth={7.5} />
          </g>
        );
      })}
      <rect x={608} y={537} width={1176} height={423} fill="none" stroke="#333" strokeWidth={2.6} />
      {[0, 0.2, 0.4, 0.6].map((t) => (
        <g key={t}>
          <line x1={604} x2={608} y1={y(t)} y2={y(t)} stroke="#333" strokeWidth={2} />
          <T x={602} y={y(t)} s={11} a="end" c="#4d4d4d">{t.toFixed(1)}</T>
        </g>
      ))}
      <T x={570} y={749} s={13.5} a="middle" r={-90}>Estimated Proportion</T>
      <T x={1196} y={975} s={15} a="middle">Cell Type</T>
      <T x={730.5} y={1056} s={15}>Cell_type</T>
      {cellTypes.map((t, i) => {
        const colX = [816.5, 992, 1144.5, 1287, 1499];
        const rowY = [1006.4, 1031.3, 1056, 1080.6, 1105.5];
        const cx = colX[Math.floor(i / 5)];
        const cy = rowY[i % 5];
        return (
          <g key={t}>
            <line x1={cx} x2={cx} y1={cy - 10.5} y2={cy + 10.5} stroke={dark} strokeWidth={2} />
            <rect x={cx - 10.5} y={cy - 8} width={21} height={16} fill={dark} />
            <line x1={cx - 7} x2={cx + 7} y1={cy - 3} y2={cy - 3} stroke={cellColors[i]} strokeWidth={1.7} />
            <line x1={cx - 7} x2={cx + 7} y1={cy + 3} y2={cy + 3} stroke={cellColors[i]} strokeWidth={1.7} />
            {t !== "Macrophages M1" && <T x={cx + 20} y={cy} s={12.9} c="#222">{t}</T>}
          </g>
        );
      })}
    </g>
  );
}

function PanelC() {
  const x = d3.scaleLinear().domain([-0.2, 0.2]).range([854, 1279]);
  const y = d3.scalePoint<string>().domain(lollipopLabels).range([1169, 1691.7]);
  const r = d3.scaleSqrt().domain([0, 0.2146]).range([5, 14]);
  const p = d3.scaleLinear().domain([0.25, 0.75]).range([1392, 1331]);
  const pBar = d3.range(0, 1.001, 0.1);
  return (
    <g>
      <Letter x={606} y={1165}>C</Letter>
      <defs>
        <linearGradient id="pGrad" x1="0" x2="0" y1="1" y2="0">{pBar.map((v) => <stop key={v} offset={v} stopColor={pColor(v)} />)}</linearGradient>
      </defs>
      {[-0.15, -0.05, 0.05, 0.15].map((t) => <line key={t} x1={x(t)} x2={x(t)} y1={1154} y2={1707} stroke={GRID} strokeWidth={1.2} />)}
      {[-0.2, -0.1, 0, 0.1, 0.2].map((t) => <line key={t} x1={x(t)} x2={x(t)} y1={1154} y2={1707} stroke={GRID} strokeWidth={2.2} />)}
      {lollipopLabels.map((l) => <line key={l} x1={838} x2={1316} y1={y(l)} y2={y(l)} stroke={GRID} strokeWidth={3} />)}
      {lollipopLabels.map((l, i) => (
        <g key={l}>
          <line x1={x(i === 0 ? 0.007 : 0)} x2={x(lollipopCorrelation[i])} y1={y(l)} y2={y(l)} stroke="#000" strokeWidth={4.2} />
          <circle cx={x(lollipopCorrelation[i])} cy={y(l)} r={r(Math.abs(lollipopCorrelation[i]))} fill={pColor(lollipopPvalue[i])} />
          <T x={830.5} y={y(l)!} s={12.6} a="end" c="#4d4d4d">{l}</T>
        </g>
      ))}
      {[-0.2, -0.1, 0, 0.1, 0.2].map((t) => <T key={t} x={x(t)} y={1718.6} s={12.7} a="middle" c="#4d4d4d">{minus(t.toFixed(1))}</T>)}
      <T x={1077} y={1735.5} s={15.4} a="middle">correlation</T>
      <T x={1339} y={1287} s={15}>pvalue</T>
      <rect x={1339} y={1301} width={24} height={121} fill="url(#pGrad)" />
      {[0.25, 0.5, 0.75].map((t) => (
        <g key={t}>
          <line x1={1339} x2={1344} y1={p(t)} y2={p(t)} stroke="#fff" strokeWidth={1.2} />
          <line x1={1358} x2={1363} y1={p(t)} y2={p(t)} stroke="#fff" strokeWidth={1.2} />
          <T x={1371} y={p(t)} s={12.7} c="#222">{t.toFixed(2)}</T>
        </g>
      ))}
      <T x={1339} y={1460} s={15.4}>abs(correlation)</T>
      {sizeLegend.map((v, i) => {
        const ly = [1487, 1511.6, 1537, 1567][i];
        return (
          <g key={v}>
            <circle cx={1354.6} cy={ly} r={r(v)} fill="#000" />
            <T x={1377.6} y={ly} s={12.7} c="#222">{v.toFixed(2)}</T>
          </g>
        );
      })}
    </g>
  );
}

function PanelD() {
  const x = d3.scalePoint<string>().domain(cellTypes).range([1626.4, 2246]);
  const y = d3.scaleBand<string>().domain(corrGenes).range([1173, 1659]).paddingInner(0.1);
  const leg = d3.scaleLinear().domain([-0.3, 0.2]).range([1491.4, 1418]);
  const legStops = d3.range(0, 1.001, 0.1);
  return (
    <g>
      <Letter x={1509} y={1165}>D</Letter>
      <defs>
        <linearGradient id="corrGrad" x1="0" x2="0" y1="1" y2="0">{legStops.map((o) => <stop key={o} offset={o} stopColor={corrColor(leg.invert(1498 - o * 95))} />)}</linearGradient>
      </defs>
      {cellTypes.map((t) => (
        <g key={t} stroke="#ececec" strokeWidth={2.4}>
          <line x1={x(t)} x2={x(t)} y1={1159} y2={1163} />
          <line x1={x(t)} x2={x(t)} y1={1668.5} y2={1672.5} />
        </g>
      ))}
      {corrGenes.map((g, i) => (
        <g key={g}>
          <T x={1602.7} y={y(g)! + y.bandwidth() / 2} s={8.7} a="end" c="#555">{g}</T>
          {corrValues[i].map((v, j) => (
            <g key={j}>
              <rect x={x(cellTypes[j])! - 10.5} y={y(g)} width={21} height={y.bandwidth()} fill={corrColor(v)} />
              {corrStars[i][j] && <text x={x(cellTypes[j])} y={y(g)! + y.bandwidth() / 2 + 3} fontSize={15} fontWeight={700} textAnchor="middle" fontFamily={SANS} fill="#111">{corrStars[i][j]}</text>}
            </g>
          ))}
        </g>
      ))}
      {cellTypes.map((t) => (
        <text key={t} x={x(t)! + 4} y={1680} fontSize={10.2} fill="#666" textAnchor="end" fontFamily={SANS} transform={`rotate(-45 ${x(t)! + 4} 1680)`}>{t}</text>
      ))}
      <T x={2285} y={1340} s={12}>* p &lt; 0.05</T>
      <T x={2282} y={1366} s={12}>** p &lt; 0.01</T>
      <T x={2281} y={1392} s={12}>Correlation</T>
      <rect x={2281.4} y={1403} width={19.2} height={95} fill="url(#corrGrad)" />
      {[-0.3, -0.2, -0.1, 0, 0.1, 0.2].map((t) => (
        <g key={t}>
          <line x1={2281.4} x2={2285} y1={leg(t)} y2={leg(t)} stroke="#fff" strokeWidth={1} />
          <line x1={2297} x2={2300.6} y1={leg(t)} y2={leg(t)} stroke="#fff" strokeWidth={1} />
          <T x={2305.7} y={leg(t)} s={10} c="#222">{minus(t.toFixed(1))}</T>
        </g>
      ))}
    </g>
  );
}

function violinPath(values: number[], density: number[], y: d3.ScaleLinear<number, number>, cx: number, scale: number) {
  const rows = values.map((v, i) => ({ v, d: density[i] }));
  return d3.area<{ v: number; d: number }>().y((p) => y(p.v)).x0((p) => cx - p.d * scale).x1((p) => cx + p.d * scale).curve(d3.curveMonotoneY)(rows) ?? "";
}

function PanelE() {
  const y = d3.scaleLinear().domain([-2, 3]).range([405.3, 92.7]);
  const x = d3.scalePoint<string>().domain(["High NGRS Group", "Low NGRS Group"]).range([1990.3, 2177.4]);
  const hi = x("High NGRS Group")!;
  const lo = x("Low NGRS Group")!;
  const boxes = [
    { cx: hi, q3: -0.992, q1: -1.296, g: -1.056, w: -1.227, top: -0.68, bot: -1.65 },
    { cx: lo, q3: -0.87, q1: -1.18, g: -0.94, w: -1.1, top: -0.63, bot: -1.4 },
  ];
  return (
    <g>
      <Letter x={1813} y={37}>E</Letter>
      <path d={violinPath(tideHighValue, tideHighDensity, y, hi, 95)} fill={HIGH} stroke="#000" strokeWidth={3.6} />
      <path d={violinPath(tideLowValue, tideLowDensity, y, lo, 95.5)} fill={LOW} stroke="#000" strokeWidth={3.6} />
      {boxes.map((b) => (
        <g key={b.cx}>
          <line x1={b.cx} x2={b.cx} y1={y(b.top)} y2={y(b.bot)} stroke="#000" strokeWidth={3.6} />
          <rect x={b.cx - 20.5} y={y(b.q3)} width={41} height={y(b.q1) - y(b.q3)} fill="#000" />
          <line x1={b.cx - 16} x2={b.cx + 16} y1={y(b.g)} y2={y(b.g)} stroke="#c4c4c4" strokeWidth={1.2} />
          <line x1={b.cx - 16} x2={b.cx + 16} y1={y(b.w)} y2={y(b.w)} stroke="#fff" strokeWidth={1.2} />
        </g>
      ))}
      <circle cx={lo} cy={y(-1.67)} r={7} fill={LOW} stroke="#000" strokeWidth={4} />
      <circle cx={lo} cy={y(-0.42)} r={6.5} fill="#000" />
      <circle cx={hi} cy={y(2.24)} r={4.6} fill="#000" />
      <circle cx={lo} cy={y(2.97)} r={7} fill="#000" />
      <path d={`M${hi},${y(3.06)}V${y(3.21)}H${lo}V${y(3.05)}`} fill="none" stroke="#000" strokeWidth={2} />
      <text x={2084} y={79} fontSize={17} fontWeight={700} textAnchor="middle" fontFamily={SANS}>**</text>
      <line x1={1878.3} x2={1878.3} y1={58} y2={413} stroke="#000" strokeWidth={4.4} />
      <line x1={1876} x2={2287.5} y1={416.7} y2={416.7} stroke="#000" strokeWidth={4.2} />
      {y.ticks(5).map((t) => (
        <g key={t}>
          <line x1={1873} x2={1878} y1={y(t)} y2={y(t)} stroke="#000" strokeWidth={3} />
          <T x={1869.5} y={y(t)} s={20} a="end">{minus(t)}</T>
        </g>
      ))}
      {x.domain().map((d) => (
        <g key={d}>
          <line x1={x(d)} x2={x(d)} y1={418} y2={423} stroke="#000" strokeWidth={3} />
          <T x={x(d)!} y={435} s={20.7} a="middle" c="#111">{d}</T>
        </g>
      ))}
      <T x={1829} y={240} s={22} a="middle" r={-90} c="#111">Value of TIDE</T>
    </g>
  );
}

function PanelF() {
  const y = d3.scaleLinear().domain([0, 1.5]).range([822.7, 547.7]);
  const hi = 1977;
  const lo = 2147;
  const boxes = [
    { cx: hi, q1: 0.078, med: 0.15, q3: 0.269, bot: 0, top: 0.55, out: [0.569, 0.624, 0.675] },
    { cx: lo, q1: 0.136, med: 0.225, q3: 0.4, bot: 0.042, top: 0.78, out: [1.02, 1.29] },
  ];
  return (
    <g>
      <Letter x={1813} y={503}>F</Letter>
      {[-0.25, 0.25, 0.75, 1.25].map((t) => <line key={t} x1={1877} x2={2247} y1={y(t)} y2={y(t)} stroke={GRID} strokeWidth={1.8} />)}
      {[0, 0.5, 1, 1.5].map((t) => <line key={t} x1={1877} x2={2247} y1={y(t)} y2={y(t)} stroke={GRID} strokeWidth={3.6} />)}
      {[hi, lo].map((c) => <line key={c} x1={c} x2={c} y1={526} y2={874} stroke={GRID} strokeWidth={3.6} />)}
      <path d={violinPath(adoraHighValue, adoraHighDensity, y, hi, 87)} fill={HIGH} />
      <path d={violinPath(adoraLowValue, adoraLowDensity, y, lo, 87)} fill={LOW} />
      {boxes.map((b) => (
        <g key={b.cx}>
          <line x1={b.cx} x2={b.cx} y1={y(b.bot)} y2={y(b.top)} stroke="#fff" strokeWidth={4.6} />
          <rect x={b.cx - 17} y={y(b.q3)} width={34} height={y(b.q1) - y(b.q3)} fill="none" stroke="#fff" strokeWidth={4} />
          <line x1={b.cx - 17} x2={b.cx + 17} y1={y(b.med)} y2={y(b.med)} stroke="#fff" strokeWidth={9} />
          {b.out.map((v) => <circle key={v} cx={b.cx} cy={y(v)} r={3.9} fill="#fff" />)}
        </g>
      ))}
      <path d={`M${hi},${y(1.315)}V${y(1.356)}H${lo}V${y(1.315)}`} fill="none" stroke="#000" strokeWidth={4} strokeLinecap="round" />
      <text x={2062} y={572} fontSize={16} fontWeight={700} textAnchor="middle" fontFamily={SANS}>**</text>
      <rect x={1876} y={525.3} width={372.4} height={349.7} fill="none" stroke="#333" strokeWidth={2.5} />
      {[0, 0.5, 1, 1.5].map((t) => (
        <g key={t}>
          <line x1={1872} x2={1876} y1={y(t)} y2={y(t)} stroke="#333" strokeWidth={2} />
          <T x={1869.5} y={y(t)} s={11} a="end" c="#666">{t.toFixed(1)}</T>
        </g>
      ))}
      {[hi, lo].map((c) => <line key={c} x1={c} x2={c} y1={875} y2={879} stroke="#333" strokeWidth={3} />)}
      <T x={1989} y={890.7} s={17} a="middle" c="#4d4d4d">High NGRS Group</T>
      <T x={2166} y={890.7} s={17} a="middle" c="#4d4d4d">Low NGRS Group</T>
      <T x={2063.5} y={910} s={13} a="middle" c="#222">Risk_Group</T>
      <T x={1835.5} y={692.5} s={21.4} a="middle" r={-90} c="#111">The expression of ADORA2A</T>
      <T x={2267} y={678} s={13} c="#222">Risk_Group</T>
      {[{ c: HIGH, t: "High NGRS Group", yy: 689 }, { c: LOW, t: "Low NGRS Group", yy: 708.5 }].map((k) => (
        <g key={k.t}>
          <rect x={2265.6} y={k.yy} width={21.4} height={19.5} fill={k.c} />
          <rect x={2267.6} y={k.yy + 2.5} width={17.4} height={14.5} fill="#fff" />
          <line x1={2271} x2={2282} y1={k.yy + 9.7} y2={k.yy + 9.7} stroke="#f0d8d0" strokeWidth={1} />
          <T x={2291.6} y={k.yy + 10} s={9.6} c="#222">{k.t}</T>
        </g>
      ))}
    </g>
  );
}

export default function App() {
  return (
    <svg width={2374} height={1781} viewBox="0 0 2374 1781" style={{ position: "absolute", left: 0, top: 0, display: "block", background: "#fff" }}>
      <PanelA />
      <StackedBars />
      <BoxPanel />
      <PanelC />
      <PanelD />
      <PanelE />
      <PanelF />
    </svg>
  );
}
